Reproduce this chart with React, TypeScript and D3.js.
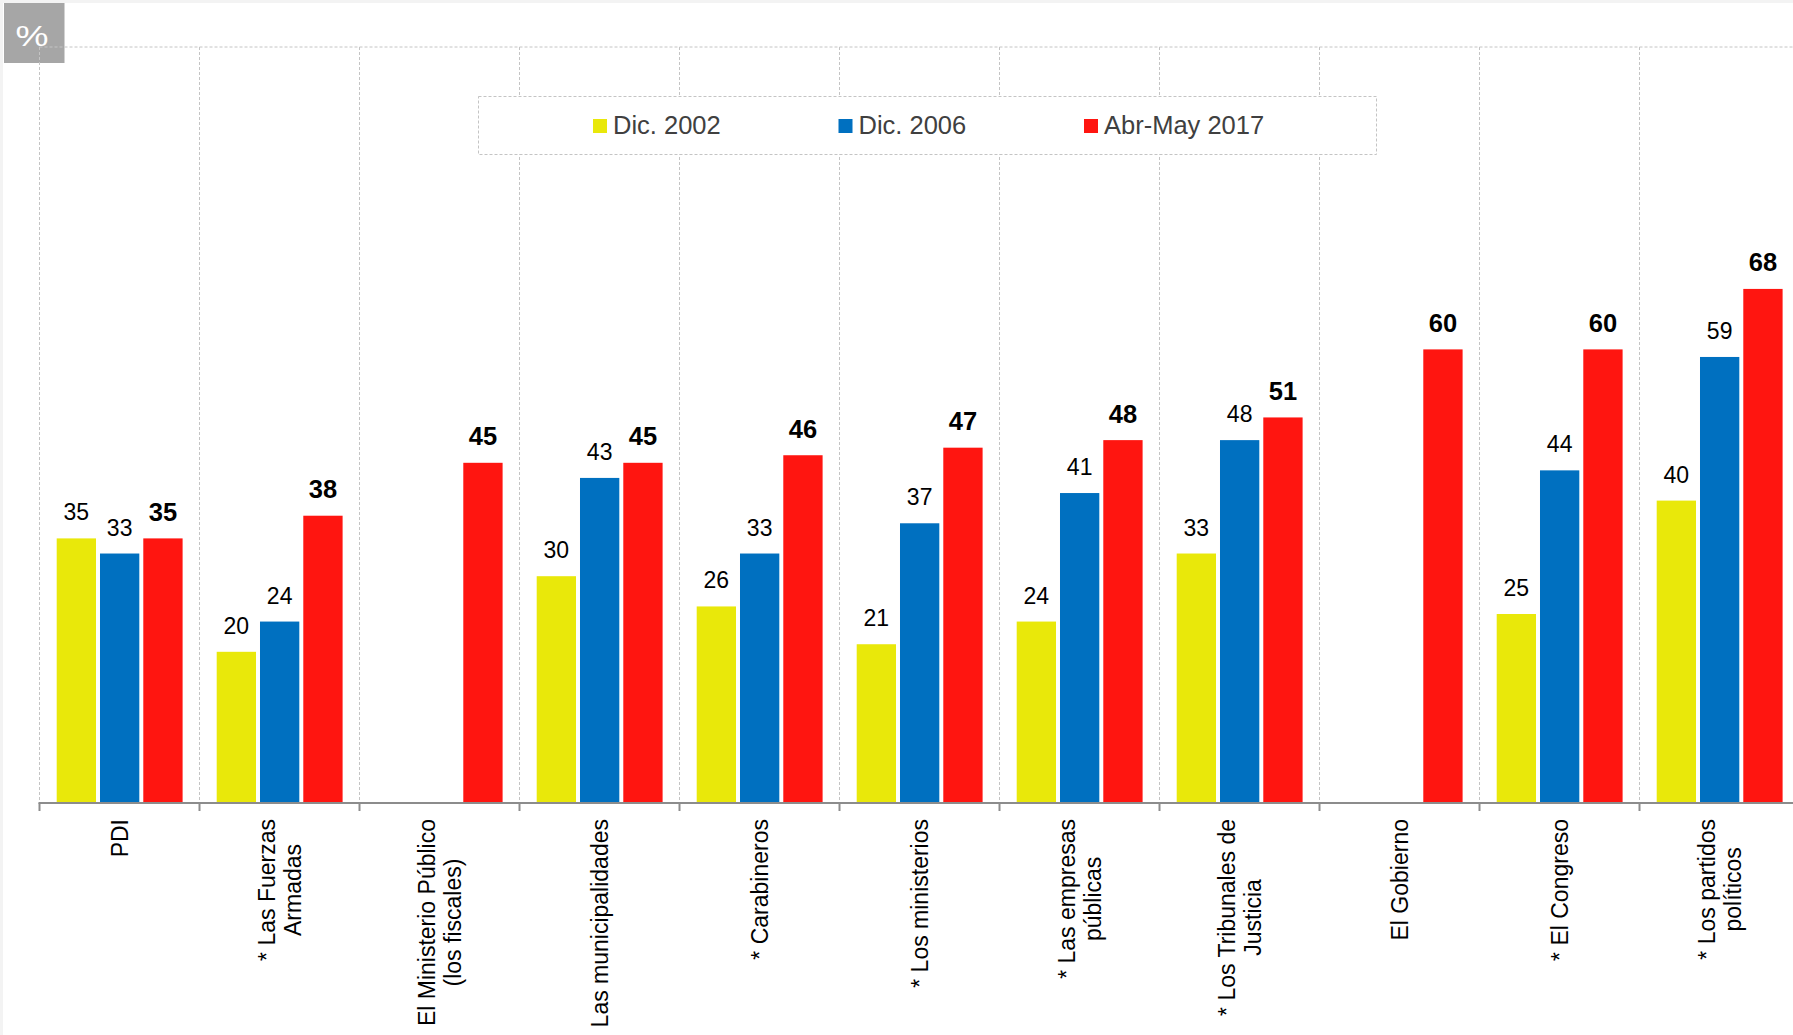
import React, { useEffect, useRef } from 'react';
import * as d3 from 'd3';

const categoryLabels: string[][] = [
  ['PDI'],
  ['* Las Fuerzas', 'Armadas'],
  ['El Ministerio Público', '(los fiscales)'],
  ['Las municipalidades'],
  ['* Carabineros'],
  ['* Los ministerios'],
  ['* Las empresas', 'públicas'],
  ['* Los Tribunales de', 'Justicia'],
  ['El Gobierno'],
  ['* El Congreso'],
  ['* Los partidos', 'políticos'],
];
const seriesNames = ['Dic. 2002', 'Dic. 2006', 'Abr-May 2017'];
const seriesColors = ['#E9E80A', '#0070C0', '#FF1510'];
const dic2002: (number | null)[] = [35, 20, null, 30, 26, 21, 24, 33, null, 25, 40];
const dic2006: (number | null)[] = [33, 24, null, 43, 33, 37, 41, 48, null, 44, 59];
const abrMay2017: (number | null)[] = [35, 38, 45, 45, 46, 47, 48, 51, 60, 60, 68];
const yDomain = [0, 100];

const W = 1793;
const H = 1035;
const FONT = '"Liberation Sans", Arial, Helvetica, sans-serif';

export default function App() {
  const ref = useRef<SVGSVGElement | null>(null);

  useEffect(() => {
    document.body.style.margin = '0';
    document.body.style.overflow = 'hidden';
    const svg = d3.select(ref.current);
    svg.selectAll('*').remove();

    const series = [dic2002, dic2006, abrMay2017];
    const keys = categoryLabels.map((l) => l.join(' '));
    const plotLeft = 39.5;
    const catStep = 160;
    const plotTop = 47;
    const plotBottom = 803;

    const x0 = d3.scaleBand<string>().domain(keys).range([plotLeft, plotLeft + catStep * keys.length]).padding(0);
    const x1 = d3.scaleBand<string>().domain(seriesNames).range([17.2, 143.1]).paddingInner(0.092).paddingOuter(0);
    const y = d3.scaleLinear().domain(yDomain).range([plotBottom, plotTop]);

    // background frame
    svg.append('rect').attr('x', 0).attr('y', 0).attr('width', W).attr('height', H).attr('fill', '#f3f3f3');
    svg.append('rect').attr('x', 3).attr('y', 3).attr('width', W - 3).attr('height', H - 3).attr('fill', '#ffffff');

    // % badge
    svg.append('rect').attr('x', 4).attr('y', 3).attr('width', 60.5).attr('height', 60).attr('fill', '#a6a6a6');
    svg.append('text').attr('x', 32).attr('y', 45.5).attr('text-anchor', 'middle').attr('font-family', FONT)
      .attr('font-size', 30).attr('fill', '#ffffff').attr('textLength', 33).attr('lengthAdjust', 'spacingAndGlyphs').text('%');

    const grid = svg.append('g').attr('stroke', '#c4c4c4').attr('stroke-width', 1).attr('stroke-dasharray', '3,2').attr('fill', 'none');
    grid.append('line').attr('x1', plotLeft).attr('x2', W).attr('y1', y(100)).attr('y2', y(100));
    const bounds = keys.map((k) => x0(k) as number);
    bounds.forEach((bx) => {
      grid.append('line').attr('x1', bx).attr('x2', bx).attr('y1', y(100)).attr('y2', plotBottom);
    });

    // legend box
    const leg = svg.append('g');
    leg.append('rect').attr('x', 478.5).attr('y', 96.5).attr('width', 898).attr('height', 58)
      .attr('fill', '#ffffff').attr('stroke', '#c4c4c4').attr('stroke-dasharray', '3,2');
    const legX = [593, 838.5, 1084];
    seriesNames.forEach((name, i) => {
      leg.append('rect').attr('x', legX[i]).attr('y', 119).attr('width', 14).attr('height', 14).attr('fill', seriesColors[i]);
      leg.append('text').attr('x', legX[i] + 20).attr('y', 133.5).attr('font-family', FONT).attr('font-size', 25.5)
        .attr('fill', '#404040').text(name);
    });

    // bars
    const bars = svg.append('g');
    keys.forEach((k, ci) => {
      seriesNames.forEach((s, si) => {
        const v = series[si][ci];
        if (v === null) return;
        const bx = (x0(k) as number) + (x1(s) as number);
        bars.append('rect').attr('x', bx).attr('y', y(v)).attr('width', x1.bandwidth()).attr('height', plotBottom - y(v))
          .attr('fill', seriesColors[si]);
        bars.append('text').attr('x', bx + x1.bandwidth() / 2).attr('y', y(v) - (si === 2 ? 17.5 : 18))
          .attr('text-anchor', 'middle').attr('font-family', FONT).attr('font-size', si === 2 ? 25.5 : 23)
          .attr('font-weight', si === 2 ? 'bold' : 'normal').attr('fill', '#000').text(String(v));
      });
    });

    // axis line and ticks
    const ax = svg.append('g').attr('stroke', '#8c8c8c').attr('stroke-width', 2);
    ax.append('line').attr('x1', plotLeft - 1).attr('x2', W).attr('y1', plotBottom).attr('y2', plotBottom);
    bounds.forEach((bx) => {
      ax.append('line').attr('x1', bx).attr('x2', bx).attr('y1', plotBottom).attr('y2', plotBottom + 8);
    });

    // category labels
    const labG = svg.append('g');
    keys.forEach((k, ci) => {
      const lines = categoryLabels[ci];
      const cx = (x0(k) as number) + x0.bandwidth() / 2;
      const g = labG.append('g').attr('transform', `translate(${cx},819) rotate(-90)`);
      const texts = lines.map((ln, li) =>
        g.append('text').attr('text-anchor', 'middle').attr('font-family', FONT).attr('font-size', 23)
          .attr('fill', '#000').attr('y', 8.5 + (li - (lines.length - 1) / 2) * 26.5).text(ln)
      );
      let maxL = 0;
      texts.forEach((t) => {
        const node = t.node() as SVGTextElement;
        maxL = Math.max(maxL, node.getComputedTextLength());
      });
      texts.forEach((t) => t.attr('x', -maxL / 2));
    });
  }, []);

  return <svg ref={ref} width={W} height={H} style={{ display: 'block' }} />;
}
